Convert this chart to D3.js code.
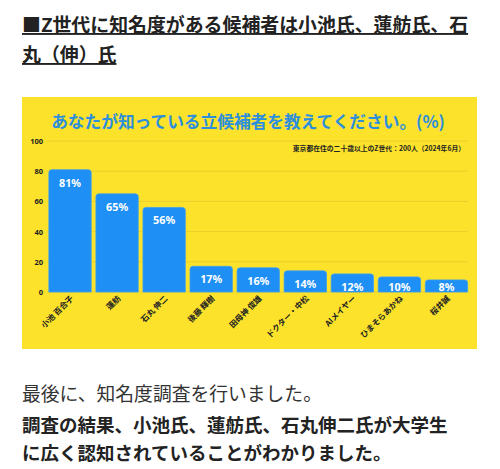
<!DOCTYPE html>
<html>
<head>
<meta charset="utf-8">
<script src="https://cdn.jsdelivr.net/npm/d3@7"></script>
<style>
  html, body { margin: 0; padding: 0; background: #fff; }
  svg { display: block; font-family: "Noto Sans CJK JP", "Noto Sans", sans-serif; }
</style>
</head>
<body>
<svg id="chart" width="500" height="469"></svg>
<script>
'use strict';

// header / body copy
var headlineLines = ['■Z世代に知名度がある候補者は小池氏、蓮舫氏、石', '丸（伸）氏'];
var bodyLine = '最後に、知名度調査を行いました。';
var boldLines = ['調査の結果、小池氏、蓮舫氏、石丸伸二氏が大学生', 'に広く認知されていることがわかりました。'];

// chart data
var chartTitle = 'あなたが知っている立候補者を教えてください。(%)';
var chartNote = '東京都在住の二十歳以上のZ世代：200人（2024年6月）';
var candidates = ['小池 百合子', '蓮舫', '石丸 伸二', '後藤 輝樹', '田母神 俊雄', 'ドクター・中松', 'AIメイヤー', 'ひまそらあかね', '桜井誠'];
var shares = [81, 65, 56, 17, 16, 14, 12, 10, 8];
var yTicks = [0, 20, 40, 60, 80, 100];

var svg = d3.select('#chart');

// headline, underlined
var head = svg.append('g');
head.selectAll('text')
  .data(headlineLines)
  .enter().append('text')
  .attr('x', 22)
  .attr('y', function(d, i) { return 32 + i * 30; })
  .attr('font-size', 18.9)
  .attr('font-weight', 'bold')
  .attr('fill', '#222')
  .attr('text-decoration', 'underline')
  .text(function(d) { return d; });

// chart panel
var panel = {x: 22, y: 97, w: 455, h: 252};
svg.append('rect')
  .attr('x', panel.x).attr('y', panel.y)
  .attr('width', panel.w).attr('height', panel.h)
  .attr('fill', '#FCE22B');

svg.append('text')
  .attr('x', 248)
  .attr('y', 128)
  .attr('text-anchor', 'middle')
  .attr('font-size', 16.7)
  .attr('font-weight', 'bold')
  .attr('fill', '#2C8FDD')
  .text(chartTitle);

var x = d3.scaleBand()
  .domain(candidates)
  .range([46.5, 470])
  .paddingInner(0.1)
  .paddingOuter(0.05);

var y = d3.scaleLinear()
  .domain([0, 100])
  .range([292, 141]);

// gridlines
svg.append('g')
  .selectAll('line')
  .data(yTicks)
  .enter().append('line')
  .attr('x1', 47).attr('x2', 468)
  .attr('y1', function(d) { return y(d); })
  .attr('y2', function(d) { return y(d); })
  .attr('stroke', '#E9CF2C')
  .attr('stroke-width', 1);

// y axis labels
var yAxis = svg.append('g')
  .attr('transform', 'translate(43,0)')
  .call(d3.axisLeft(y).tickValues(yTicks).tickSize(0).tickPadding(0));
yAxis.select('.domain').remove();
yAxis.selectAll('text')
  .attr('font-size', 7.5)
  .attr('font-weight', 'bold')
  .attr('fill', '#222')
  .attr('font-family', '"Noto Sans", sans-serif');

svg.append('text')
  .attr('x', 465)
  .attr('y', 151)
  .attr('text-anchor', 'end')
  .attr('font-size', 6.8)
  .attr('font-weight', 'bold')
  .attr('fill', '#222')
  .text(chartNote);

// bars with rounded tops
function barPath(d, i) {
  var x0 = x(candidates[i]), w = x.bandwidth();
  var top = y(d), bottom = y(0), r = 3;
  return 'M' + x0 + ',' + bottom +
    'V' + (top + r) +
    'Q' + x0 + ',' + top + ' ' + (x0 + r) + ',' + top +
    'H' + (x0 + w - r) +
    'Q' + (x0 + w) + ',' + top + ' ' + (x0 + w) + ',' + (top + r) +
    'V' + bottom + 'Z';
}

svg.append('g')
  .selectAll('path')
  .data(shares)
  .enter().append('path')
  .attr('d', barPath)
  .attr('fill', '#1E8FF4')
  .attr('stroke', '#3EA0F0')
  .attr('stroke-width', 0.8);

// value labels, kept inside short bars
svg.append('g')
  .selectAll('text')
  .data(shares)
  .enter().append('text')
  .attr('x', function(d, i) { return x(candidates[i]) + x.bandwidth() / 2; })
  .attr('y', function(d) { return Math.min(y(d) + 17, y(0) - 1); })
  .attr('text-anchor', 'middle')
  .attr('font-size', 10.8)
  .attr('font-weight', 'bold')
  .attr('fill', '#fff')
  .attr('font-family', '"Noto Sans", sans-serif')
  .text(function(d) { return d + '%'; });

// rotated category labels
svg.append('g')
  .selectAll('text')
  .data(candidates)
  .enter().append('text')
  .attr('transform', function(d) {
    return 'translate(' + (x(d) + x.bandwidth() / 2 + 4) + ',' + 299 + ') rotate(-45)';
  })
  .attr('text-anchor', 'end')
  .attr('font-size', 8)
  .attr('font-weight', 'bold')
  .attr('fill', '#222')
  .text(function(d) { return d; });

// body copy
svg.append('text')
  .attr('x', 22)
  .attr('y', 401)
  .attr('font-size', 18.8)
  .attr('fill', '#333')
  .text(bodyLine);

svg.append('g')
  .selectAll('text')
  .data(boldLines)
  .enter().append('text')
  .attr('x', 22)
  .attr('y', function(d, i) { return 432 + i * 28; })
  .attr('font-size', 18.5)
  .attr('font-weight', 'bold')
  .attr('fill', '#222')
  .text(function(d) { return d; });
</script>
</body>
</html>
